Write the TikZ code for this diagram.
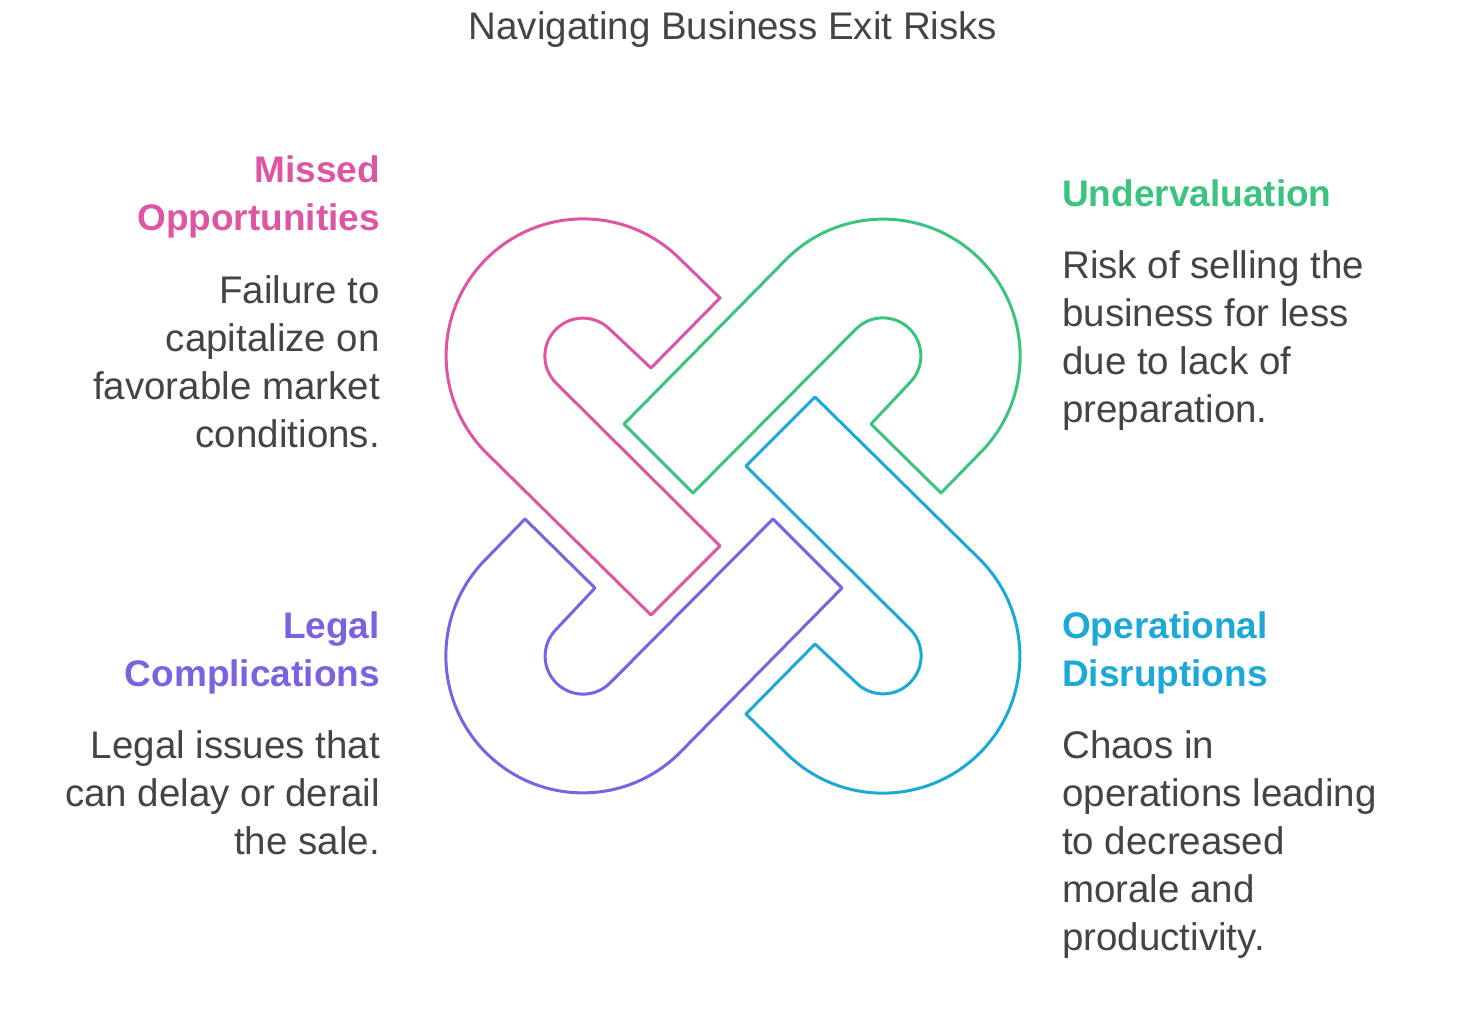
\documentclass[tikz,border=0pt]{standalone}
\usepackage{fontspec}
\setmainfont{Liberation Sans}
\definecolor{cpink}{HTML}{DD55A3}
\definecolor{cgreen}{HTML}{3CC47F}
\definecolor{ccyan}{HTML}{1DA9D8}
\definecolor{cpurp}{HTML}{7B62E2}
\definecolor{ctext}{HTML}{444444}
\begin{document}
\begin{tikzpicture}[x=1pt,y=-1pt,
  hook/.style={line width=3pt,line join=round},
  lft/.style={align=right,anchor=base east,inner sep=0pt},
  rgt/.style={align=left,anchor=base west,inner sep=0pt},
  head/.style={font=\fontsize{37}{48}\selectfont\bfseries},
  body/.style={font=\fontsize{38.5}{48}\selectfont,text=ctext}]
\useasboundingbox (0,0) rectangle (1468,1012);
\newcommand{\hookpath}{%
  (-53,-247) arc[start angle=-45,end angle=-225,radius=137]
  -- (-82,109) -- (-13,40) -- (-177,-123)
  arc[start angle=135,end angle=315,radius=38]
  -- (-82,-138) -- (-13,-208) -- cycle}
\begin{scope}[shift={(733,506)}]
  \draw[hook,cpink] \hookpath;
  \begin{scope}[rotate=270]\draw[hook,cgreen] \hookpath;\end{scope}
  \begin{scope}[rotate=180]\draw[hook,ccyan] \hookpath;\end{scope}
  \begin{scope}[rotate=90]\draw[hook,cpurp] \hookpath;\end{scope}
\end{scope}
\node[font=\fontsize{38.5}{40}\selectfont,text=ctext,anchor=base,inner sep=0pt] (title) at (733,39) {Navigating Business Exit Risks};
\node[head,lft,text=cpink] (h1) at (380,230) {Missed\\Opportunities};
\node[body,lft] (b1) at (380,447) {Failure to\\capitalize on\\favorable market\\conditions.};
\node[head,rgt,text=cgreen] (h2) at (1062,206) {Undervaluation};
\node[body,rgt] (b2) at (1062,422) {Risk of selling the\\business for less\\due to lack of\\preparation.};
\node[head,lft,text=cpurp] (h3) at (380,686) {Legal\\Complications};
\node[body,lft] (b3) at (380,854) {Legal issues that\\can delay or derail\\the sale.};
\node[head,rgt,text=ccyan] (h4) at (1062,686) {Operational\\Disruptions};
\node[body,rgt] (b4) at (1062,950) {Chaos in\\operations leading\\to decreased\\morale and\\productivity.};
\end{tikzpicture}
\end{document}
